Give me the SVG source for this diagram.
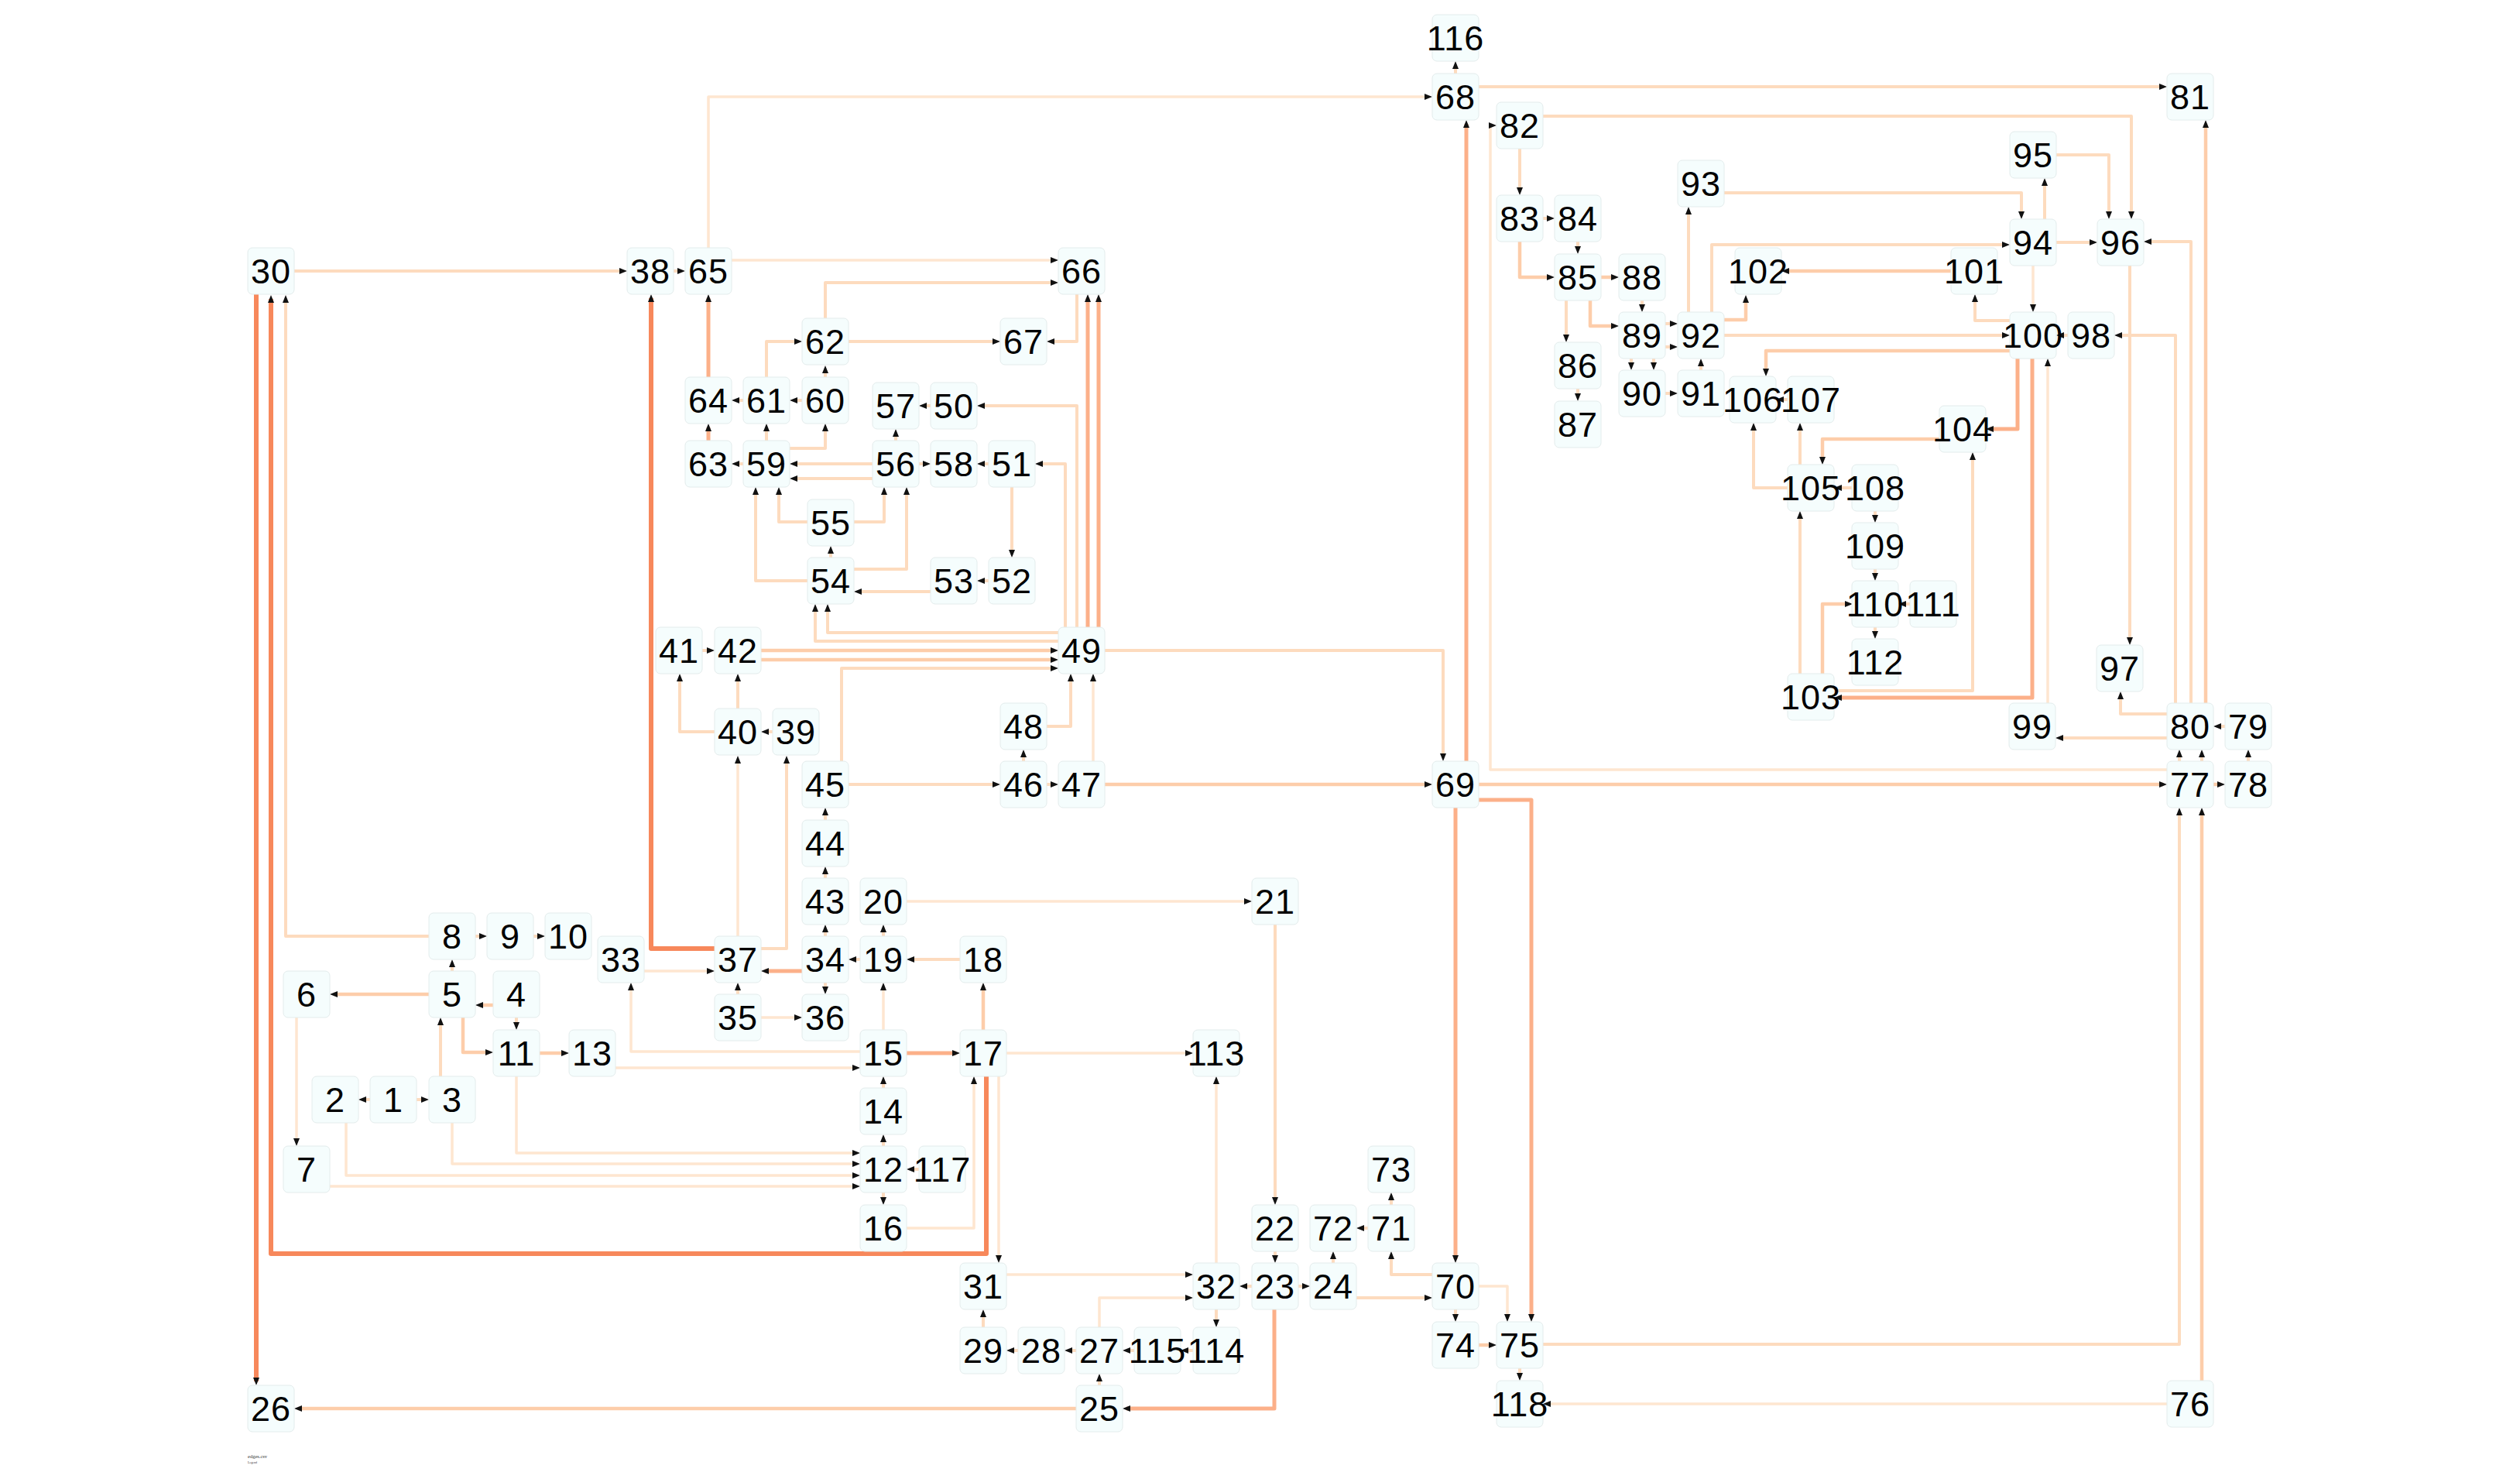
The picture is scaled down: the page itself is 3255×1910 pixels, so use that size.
<svg xmlns="http://www.w3.org/2000/svg" width="3255" height="1910" viewBox="0 0 3255 1910">
<style>
.e{fill:none;stroke-linejoin:round;marker-end:url(#ah)}
.c1{stroke:#fee6d0;stroke-width:3.5}
.c2{stroke:#fddbbe;stroke-width:4}
.c3{stroke:#fdcdaa;stroke-width:4.5}
.c4{stroke:#fcb089;stroke-width:5}
.c5{stroke:#f7885b;stroke-width:6}
.n rect{fill:#f5fdfd;stroke:#e3ecec;stroke-width:1}
.n text{font-family:"Liberation Sans",Arial,sans-serif;font-size:45px;letter-spacing:1px;fill:#000;text-anchor:middle}
</style>
<defs>
<marker id="ah" markerUnits="userSpaceOnUse" markerWidth="10" markerHeight="8" refX="5" refY="4" orient="auto"><path d="M0,0 L10,4 L0,8 z" fill="#111"/></marker>
</defs>
<rect width="3255" height="1910" fill="#fff"/>
<g id="edges">
<path class="e c2" d="M380,350 H805"/>
<path class="e c2" d="M870,350 H880"/>
<path class="e c1" d="M945,336 H1362"/>
<path class="e c2" d="M1066,411 V365 H1362"/>
<path class="e c1" d="M915,320 V125 H1845"/>
<path class="e c4" d="M915,487 V385"/>
<path class="e c4" d="M915,569 V552"/>
<path class="e c2" d="M960,517 H950"/>
<path class="e c2" d="M1036,517 H1025"/>
<path class="e c2" d="M990,487 V441 H1031"/>
<path class="e c2" d="M1066,487 V477"/>
<path class="e c2" d="M1096,441 H1287"/>
<path class="e c2" d="M1391,380 V441 H1357"/>
<path class="e c2" d="M990,569 V552"/>
<path class="e c2" d="M960,599 H950"/>
<path class="e c2" d="M1020,579 H1066 V552"/>
<path class="e c2" d="M1127,599 H1025"/>
<path class="e c2" d="M1127,618 H1025"/>
<path class="e c2" d="M1157,569 V559"/>
<path class="e c2" d="M1187,599 H1197"/>
<path class="e c2" d="M1277,599 H1267"/>
<path class="e c2" d="M1202,524 H1192"/>
<path class="e c2" d="M1307,629 V715"/>
<path class="e c2" d="M1277,750 H1267"/>
<path class="e c2" d="M1202,764 H1108"/>
<path class="e c2" d="M1073,720 V710"/>
<path class="e c2" d="M1043,674 H1006 V634"/>
<path class="e c2" d="M1103,674 H1142 V634"/>
<path class="e c2" d="M1043,750 H976 V634"/>
<path class="e c2" d="M1103,735 H1171 V634"/>
<path class="e c2" d="M1391,810 V524 H1267"/>
<path class="e c2" d="M1376,810 V599 H1342"/>
<path class="e c4" d="M1405,810 V385"/>
<path class="e c4" d="M1419,810 V385"/>
<path class="e c2" d="M1367,817 H1069 V785"/>
<path class="e c2" d="M1367,828 H1053 V785"/>
<path class="e c3" d="M983,840 H1362"/>
<path class="e c3" d="M983,852 H1362"/>
<path class="e c2" d="M1087,983 V863 H1362"/>
<path class="e c2" d="M1352,938 H1383 V875"/>
<path class="e c1" d="M1412,983 V875"/>
<path class="e c2" d="M1427,840 H1864 V978"/>
<path class="e c2" d="M907,840 H918"/>
<path class="e c2" d="M923,945 H878 V875"/>
<path class="e c2" d="M953,915 V875"/>
<path class="e c2" d="M998,945 H988"/>
<path class="e c1" d="M953,1209 V981"/>
<path class="e c2" d="M983,1225 H1016 V981"/>
<path class="e c2" d="M1322,983 V973"/>
<path class="e c2" d="M1096,1013 H1287"/>
<path class="e c2" d="M1352,1013 H1362"/>
<path class="e c3" d="M1427,1013 H1845"/>
<path class="e c2" d="M1066,1059 V1048"/>
<path class="e c2" d="M1066,1134 V1124"/>
<path class="e c2" d="M1066,1209 V1199"/>
<path class="e c2" d="M1141,1209 V1199"/>
<path class="e c1" d="M1171,1164 H1612"/>
<path class="e c2" d="M1647,1194 V1551"/>
<path class="e c2" d="M1240,1239 H1176"/>
<path class="e c2" d="M1111,1239 H1101"/>
<path class="e c4" d="M1036,1254 H988"/>
<path class="e c2" d="M1066,1269 V1279"/>
<path class="e c2" d="M953,1284 V1274"/>
<path class="e c1" d="M983,1314 H1031"/>
<path class="e c1" d="M832,1254 H918"/>
<path class="e c5" d="M923,1225 H841 V385"/>
<path class="e c1" d="M1111,1358 H815 V1274"/>
<path class="e c1" d="M795,1379 H1106"/>
<path class="e c3" d="M697,1360 H730"/>
<path class="e c3" d="M598,1314 V1359 H632"/>
<path class="e c2" d="M667,1314 V1325"/>
<path class="e c3" d="M637,1298 H619"/>
<path class="e c3" d="M554,1284 H431"/>
<path class="e c2" d="M584,1254 V1244"/>
<path class="e c2" d="M614,1209 H624"/>
<path class="e c2" d="M689,1209 H699"/>
<path class="e c2" d="M554,1209 H369 V386"/>
<path class="e c1" d="M383,1314 V1475"/>
<path class="e c2" d="M478,1420 H468"/>
<path class="e c2" d="M538,1420 H549"/>
<path class="e c2" d="M569,1390 V1319"/>
<path class="e c1" d="M667,1390 V1489 H1106"/>
<path class="e c1" d="M584,1450 V1503 H1106"/>
<path class="e c1" d="M447,1450 V1518 H1106"/>
<path class="e c1" d="M426,1532 H1106"/>
<path class="e c2" d="M1141,1480 V1470"/>
<path class="e c2" d="M1141,1405 V1395"/>
<path class="e c1" d="M1141,1330 V1274"/>
<path class="e c4" d="M1171,1360 H1235"/>
<path class="e c3" d="M1270,1330 V1274"/>
<path class="e c1" d="M1300,1360 H1536"/>
<path class="e c2" d="M1187,1510 H1176"/>
<path class="e c2" d="M1141,1540 V1551"/>
<path class="e c1" d="M1171,1586 H1258 V1395"/>
<path class="e c5" d="M1274,1390 V1619 H350 V386"/>
<path class="e c5" d="M331,380 V1784"/>
<path class="e c1" d="M1290,1390 V1626"/>
<path class="e c2" d="M1270,1714 V1696"/>
<path class="e c2" d="M1315,1744 H1305"/>
<path class="e c2" d="M1390,1744 H1380"/>
<path class="e c2" d="M1465,1744 H1455"/>
<path class="e c2" d="M1541,1744 H1530"/>
<path class="e c2" d="M1420,1789 V1779"/>
<path class="e c1" d="M1420,1714 V1676 H1536"/>
<path class="e c1" d="M1300,1646 H1536"/>
<path class="e c1" d="M1571,1631 V1395"/>
<path class="e c2" d="M1571,1691 V1709"/>
<path class="e c2" d="M1617,1661 H1606"/>
<path class="e c2" d="M1647,1616 V1626"/>
<path class="e c2" d="M1677,1661 H1687"/>
<path class="e c2" d="M1722,1631 V1621"/>
<path class="e c2" d="M1767,1586 H1757"/>
<path class="e c2" d="M1797,1556 V1545"/>
<path class="e c2" d="M1850,1646 H1797 V1621"/>
<path class="e c2" d="M1752,1676 H1845"/>
<path class="e c4" d="M1646,1691 V1819 H1455"/>
<path class="e c3" d="M1390,1819 H385"/>
<path class="e c2" d="M1880,1691 V1702"/>
<path class="e c3" d="M1910,1737 H1928"/>
<path class="e c1" d="M1910,1661 H1947 V1702"/>
<path class="e c4" d="M1910,1033 H1978 V1702"/>
<path class="e c4" d="M1880,1043 V1626"/>
<path class="e c2" d="M1963,1767 V1778"/>
<path class="e c1" d="M2799,1813 H1998"/>
<path class="e c2" d="M1993,1736 H2815 V1048"/>
<path class="e c3" d="M2844,1783 V1048"/>
<path class="e c3" d="M1910,1013 H2794"/>
<path class="e c3" d="M2859,1013 H2869"/>
<path class="e c2" d="M2904,983 V973"/>
<path class="e c2" d="M2874,938 H2864"/>
<path class="e c2" d="M2815,983 V973"/>
<path class="e c2" d="M2844,983 V973"/>
<path class="e c1" d="M2799,994 H1925 V162 H1928"/>
<path class="e c2" d="M2799,953 H2660"/>
<path class="e c2" d="M2799,922 H2739 V898"/>
<path class="e c2" d="M2810,908 V433 H2736"/>
<path class="e c2" d="M2830,908 V312 H2774"/>
<path class="e c3" d="M2849,908 V160"/>
<path class="e c2" d="M1910,112 H2794"/>
<path class="e c2" d="M1880,95 V84"/>
<path class="e c4" d="M1894,983 V160"/>
<path class="e c2" d="M1993,150 H2753 V278"/>
<path class="e c2" d="M1963,192 V247"/>
<path class="e c2" d="M1993,282 H2003"/>
<path class="e c2" d="M2038,312 V323"/>
<path class="e c3" d="M1963,312 V358 H2003"/>
<path class="e c3" d="M2068,358 H2086"/>
<path class="e c2" d="M2023,388 V437"/>
<path class="e c3" d="M2054,388 V421 H2086"/>
<path class="e c2" d="M2121,388 V398"/>
<path class="e c2" d="M2038,502 V513"/>
<path class="e c2" d="M2151,418 H2162"/>
<path class="e c2" d="M2151,448 H2162"/>
<path class="e c2" d="M2107,463 V473"/>
<path class="e c2" d="M2136,463 V473"/>
<path class="e c2" d="M2151,508 H2162"/>
<path class="e c2" d="M2197,478 V468"/>
<path class="e c2" d="M2181,403 V272"/>
<path class="e c2" d="M2227,249 H2611 V278"/>
<path class="e c2" d="M2211,403 V316 H2591"/>
<path class="e c3" d="M2227,413 H2255 V386"/>
<path class="e c2" d="M2227,433 H2591"/>
<path class="e c3" d="M2520,350 H2306"/>
<path class="e c2" d="M2596,414 H2551 V385"/>
<path class="e c2" d="M2641,283 V235"/>
<path class="e c2" d="M2656,200 H2724 V278"/>
<path class="e c2" d="M2656,313 H2704"/>
<path class="e c1" d="M2626,343 V398"/>
<path class="e c2" d="M2671,433 H2661"/>
<path class="e c2" d="M2751,343 V828"/>
<path class="e c3" d="M2596,453 H2281 V481"/>
<path class="e c2" d="M2309,516 H2299"/>
<path class="e c2" d="M2309,630 H2265 V551"/>
<path class="e c2" d="M2325,600 V551"/>
<path class="e c2" d="M2393,630 H2374"/>
<path class="e c2" d="M2422,660 V670"/>
<path class="e c2" d="M2422,735 V745"/>
<path class="e c2" d="M2422,810 V820"/>
<path class="e c2" d="M2467,780 H2457"/>
<path class="e c3" d="M2505,567 H2354 V595"/>
<path class="e c4" d="M2606,463 V554 H2570"/>
<path class="e c4" d="M2625,463 V901 H2374"/>
<path class="e c1" d="M2645,908 V468"/>
<path class="e c2" d="M2369,892 H2548 V589"/>
<path class="e c2" d="M2325,870 V665"/>
<path class="e c3" d="M2354,870 V780 H2388"/>
</g>
<g id="nodes">
<g class="n" id="n1"><rect x="478" y="1390" width="60" height="60" rx="6"/><text x="508" y="1436">1</text></g>
<g class="n" id="n2"><rect x="403" y="1390" width="60" height="60" rx="6"/><text x="433" y="1436">2</text></g>
<g class="n" id="n3"><rect x="554" y="1390" width="60" height="60" rx="6"/><text x="584" y="1436">3</text></g>
<g class="n" id="n4"><rect x="637" y="1254" width="60" height="60" rx="6"/><text x="667" y="1300">4</text></g>
<g class="n" id="n5"><rect x="554" y="1254" width="60" height="60" rx="6"/><text x="584" y="1300">5</text></g>
<g class="n" id="n6"><rect x="366" y="1254" width="60" height="60" rx="6"/><text x="396" y="1300">6</text></g>
<g class="n" id="n7"><rect x="366" y="1480" width="60" height="60" rx="6"/><text x="396" y="1526">7</text></g>
<g class="n" id="n8"><rect x="554" y="1179" width="60" height="60" rx="6"/><text x="584" y="1225">8</text></g>
<g class="n" id="n9"><rect x="629" y="1179" width="60" height="60" rx="6"/><text x="659" y="1225">9</text></g>
<g class="n" id="n10"><rect x="704" y="1179" width="60" height="60" rx="6"/><text x="734" y="1225">10</text></g>
<g class="n" id="n11"><rect x="637" y="1330" width="60" height="60" rx="6"/><text x="667" y="1376">11</text></g>
<g class="n" id="n12"><rect x="1111" y="1480" width="60" height="60" rx="6"/><text x="1141" y="1526">12</text></g>
<g class="n" id="n13"><rect x="735" y="1330" width="60" height="60" rx="6"/><text x="765" y="1376">13</text></g>
<g class="n" id="n14"><rect x="1111" y="1405" width="60" height="60" rx="6"/><text x="1141" y="1451">14</text></g>
<g class="n" id="n15"><rect x="1111" y="1330" width="60" height="60" rx="6"/><text x="1141" y="1376">15</text></g>
<g class="n" id="n16"><rect x="1111" y="1556" width="60" height="60" rx="6"/><text x="1141" y="1602">16</text></g>
<g class="n" id="n17"><rect x="1240" y="1330" width="60" height="60" rx="6"/><text x="1270" y="1376">17</text></g>
<g class="n" id="n18"><rect x="1240" y="1209" width="60" height="60" rx="6"/><text x="1270" y="1255">18</text></g>
<g class="n" id="n19"><rect x="1111" y="1209" width="60" height="60" rx="6"/><text x="1141" y="1255">19</text></g>
<g class="n" id="n20"><rect x="1111" y="1134" width="60" height="60" rx="6"/><text x="1141" y="1180">20</text></g>
<g class="n" id="n21"><rect x="1617" y="1134" width="60" height="60" rx="6"/><text x="1647" y="1180">21</text></g>
<g class="n" id="n22"><rect x="1617" y="1556" width="60" height="60" rx="6"/><text x="1647" y="1602">22</text></g>
<g class="n" id="n23"><rect x="1617" y="1631" width="60" height="60" rx="6"/><text x="1647" y="1677">23</text></g>
<g class="n" id="n24"><rect x="1692" y="1631" width="60" height="60" rx="6"/><text x="1722" y="1677">24</text></g>
<g class="n" id="n25"><rect x="1390" y="1789" width="60" height="60" rx="6"/><text x="1420" y="1835">25</text></g>
<g class="n" id="n26"><rect x="320" y="1789" width="60" height="60" rx="6"/><text x="350" y="1835">26</text></g>
<g class="n" id="n27"><rect x="1390" y="1714" width="60" height="60" rx="6"/><text x="1420" y="1760">27</text></g>
<g class="n" id="n28"><rect x="1315" y="1714" width="60" height="60" rx="6"/><text x="1345" y="1760">28</text></g>
<g class="n" id="n29"><rect x="1240" y="1714" width="60" height="60" rx="6"/><text x="1270" y="1760">29</text></g>
<g class="n" id="n30"><rect x="320" y="320" width="60" height="60" rx="6"/><text x="350" y="366">30</text></g>
<g class="n" id="n31"><rect x="1240" y="1631" width="60" height="60" rx="6"/><text x="1270" y="1677">31</text></g>
<g class="n" id="n32"><rect x="1541" y="1631" width="60" height="60" rx="6"/><text x="1571" y="1677">32</text></g>
<g class="n" id="n33"><rect x="772" y="1209" width="60" height="60" rx="6"/><text x="802" y="1255">33</text></g>
<g class="n" id="n34"><rect x="1036" y="1209" width="60" height="60" rx="6"/><text x="1066" y="1255">34</text></g>
<g class="n" id="n35"><rect x="923" y="1284" width="60" height="60" rx="6"/><text x="953" y="1330">35</text></g>
<g class="n" id="n36"><rect x="1036" y="1284" width="60" height="60" rx="6"/><text x="1066" y="1330">36</text></g>
<g class="n" id="n37"><rect x="923" y="1209" width="60" height="60" rx="6"/><text x="953" y="1255">37</text></g>
<g class="n" id="n38"><rect x="810" y="320" width="60" height="60" rx="6"/><text x="840" y="366">38</text></g>
<g class="n" id="n39"><rect x="998" y="915" width="60" height="60" rx="6"/><text x="1028" y="961">39</text></g>
<g class="n" id="n40"><rect x="923" y="915" width="60" height="60" rx="6"/><text x="953" y="961">40</text></g>
<g class="n" id="n41"><rect x="847" y="810" width="60" height="60" rx="6"/><text x="877" y="856">41</text></g>
<g class="n" id="n42"><rect x="923" y="810" width="60" height="60" rx="6"/><text x="953" y="856">42</text></g>
<g class="n" id="n43"><rect x="1036" y="1134" width="60" height="60" rx="6"/><text x="1066" y="1180">43</text></g>
<g class="n" id="n44"><rect x="1036" y="1059" width="60" height="60" rx="6"/><text x="1066" y="1105">44</text></g>
<g class="n" id="n45"><rect x="1036" y="983" width="60" height="60" rx="6"/><text x="1066" y="1029">45</text></g>
<g class="n" id="n46"><rect x="1292" y="983" width="60" height="60" rx="6"/><text x="1322" y="1029">46</text></g>
<g class="n" id="n47"><rect x="1367" y="983" width="60" height="60" rx="6"/><text x="1397" y="1029">47</text></g>
<g class="n" id="n48"><rect x="1292" y="908" width="60" height="60" rx="6"/><text x="1322" y="954">48</text></g>
<g class="n" id="n49"><rect x="1367" y="810" width="60" height="60" rx="6"/><text x="1397" y="856">49</text></g>
<g class="n" id="n50"><rect x="1202" y="494" width="60" height="60" rx="6"/><text x="1232" y="540">50</text></g>
<g class="n" id="n51"><rect x="1277" y="569" width="60" height="60" rx="6"/><text x="1307" y="615">51</text></g>
<g class="n" id="n52"><rect x="1277" y="720" width="60" height="60" rx="6"/><text x="1307" y="766">52</text></g>
<g class="n" id="n53"><rect x="1202" y="720" width="60" height="60" rx="6"/><text x="1232" y="766">53</text></g>
<g class="n" id="n54"><rect x="1043" y="720" width="60" height="60" rx="6"/><text x="1073" y="766">54</text></g>
<g class="n" id="n55"><rect x="1043" y="645" width="60" height="60" rx="6"/><text x="1073" y="691">55</text></g>
<g class="n" id="n56"><rect x="1127" y="569" width="60" height="60" rx="6"/><text x="1157" y="615">56</text></g>
<g class="n" id="n57"><rect x="1127" y="494" width="60" height="60" rx="6"/><text x="1157" y="540">57</text></g>
<g class="n" id="n58"><rect x="1202" y="569" width="60" height="60" rx="6"/><text x="1232" y="615">58</text></g>
<g class="n" id="n59"><rect x="960" y="569" width="60" height="60" rx="6"/><text x="990" y="615">59</text></g>
<g class="n" id="n60"><rect x="1036" y="487" width="60" height="60" rx="6"/><text x="1066" y="533">60</text></g>
<g class="n" id="n61"><rect x="960" y="487" width="60" height="60" rx="6"/><text x="990" y="533">61</text></g>
<g class="n" id="n62"><rect x="1036" y="411" width="60" height="60" rx="6"/><text x="1066" y="457">62</text></g>
<g class="n" id="n63"><rect x="885" y="569" width="60" height="60" rx="6"/><text x="915" y="615">63</text></g>
<g class="n" id="n64"><rect x="885" y="487" width="60" height="60" rx="6"/><text x="915" y="533">64</text></g>
<g class="n" id="n65"><rect x="885" y="320" width="60" height="60" rx="6"/><text x="915" y="366">65</text></g>
<g class="n" id="n66"><rect x="1367" y="320" width="60" height="60" rx="6"/><text x="1397" y="366">66</text></g>
<g class="n" id="n67"><rect x="1292" y="411" width="60" height="60" rx="6"/><text x="1322" y="457">67</text></g>
<g class="n" id="n68"><rect x="1850" y="95" width="60" height="60" rx="6"/><text x="1880" y="141">68</text></g>
<g class="n" id="n69"><rect x="1850" y="983" width="60" height="60" rx="6"/><text x="1880" y="1029">69</text></g>
<g class="n" id="n70"><rect x="1850" y="1631" width="60" height="60" rx="6"/><text x="1880" y="1677">70</text></g>
<g class="n" id="n71"><rect x="1767" y="1556" width="60" height="60" rx="6"/><text x="1797" y="1602">71</text></g>
<g class="n" id="n72"><rect x="1692" y="1556" width="60" height="60" rx="6"/><text x="1722" y="1602">72</text></g>
<g class="n" id="n73"><rect x="1767" y="1480" width="60" height="60" rx="6"/><text x="1797" y="1526">73</text></g>
<g class="n" id="n74"><rect x="1850" y="1707" width="60" height="60" rx="6"/><text x="1880" y="1753">74</text></g>
<g class="n" id="n75"><rect x="1933" y="1707" width="60" height="60" rx="6"/><text x="1963" y="1753">75</text></g>
<g class="n" id="n76"><rect x="2799" y="1783" width="60" height="60" rx="6"/><text x="2829" y="1829">76</text></g>
<g class="n" id="n77"><rect x="2799" y="983" width="60" height="60" rx="6"/><text x="2829" y="1029">77</text></g>
<g class="n" id="n78"><rect x="2874" y="983" width="60" height="60" rx="6"/><text x="2904" y="1029">78</text></g>
<g class="n" id="n79"><rect x="2874" y="908" width="60" height="60" rx="6"/><text x="2904" y="954">79</text></g>
<g class="n" id="n80"><rect x="2799" y="908" width="60" height="60" rx="6"/><text x="2829" y="954">80</text></g>
<g class="n" id="n81"><rect x="2799" y="95" width="60" height="60" rx="6"/><text x="2829" y="141">81</text></g>
<g class="n" id="n82"><rect x="1933" y="132" width="60" height="60" rx="6"/><text x="1963" y="178">82</text></g>
<g class="n" id="n83"><rect x="1933" y="252" width="60" height="60" rx="6"/><text x="1963" y="298">83</text></g>
<g class="n" id="n84"><rect x="2008" y="252" width="60" height="60" rx="6"/><text x="2038" y="298">84</text></g>
<g class="n" id="n85"><rect x="2008" y="328" width="60" height="60" rx="6"/><text x="2038" y="374">85</text></g>
<g class="n" id="n86"><rect x="2008" y="442" width="60" height="60" rx="6"/><text x="2038" y="488">86</text></g>
<g class="n" id="n87"><rect x="2008" y="518" width="60" height="60" rx="6"/><text x="2038" y="564">87</text></g>
<g class="n" id="n88"><rect x="2091" y="328" width="60" height="60" rx="6"/><text x="2121" y="374">88</text></g>
<g class="n" id="n89"><rect x="2091" y="403" width="60" height="60" rx="6"/><text x="2121" y="449">89</text></g>
<g class="n" id="n90"><rect x="2091" y="478" width="60" height="60" rx="6"/><text x="2121" y="524">90</text></g>
<g class="n" id="n91"><rect x="2167" y="478" width="60" height="60" rx="6"/><text x="2197" y="524">91</text></g>
<g class="n" id="n92"><rect x="2167" y="403" width="60" height="60" rx="6"/><text x="2197" y="449">92</text></g>
<g class="n" id="n93"><rect x="2167" y="207" width="60" height="60" rx="6"/><text x="2197" y="253">93</text></g>
<g class="n" id="n94"><rect x="2596" y="283" width="60" height="60" rx="6"/><text x="2626" y="329">94</text></g>
<g class="n" id="n95"><rect x="2596" y="170" width="60" height="60" rx="6"/><text x="2626" y="216">95</text></g>
<g class="n" id="n96"><rect x="2709" y="283" width="60" height="60" rx="6"/><text x="2739" y="329">96</text></g>
<g class="n" id="n97"><rect x="2708" y="833" width="60" height="60" rx="6"/><text x="2738" y="879">97</text></g>
<g class="n" id="n98"><rect x="2671" y="403" width="60" height="60" rx="6"/><text x="2701" y="449">98</text></g>
<g class="n" id="n99"><rect x="2595" y="908" width="60" height="60" rx="6"/><text x="2625" y="954">99</text></g>
<g class="n" id="n100"><rect x="2596" y="403" width="60" height="60" rx="6"/><text x="2626" y="449">100</text></g>
<g class="n" id="n101"><rect x="2520" y="320" width="60" height="60" rx="6"/><text x="2550" y="366">101</text></g>
<g class="n" id="n102"><rect x="2241" y="320" width="60" height="60" rx="6"/><text x="2271" y="366">102</text></g>
<g class="n" id="n103"><rect x="2309" y="870" width="60" height="60" rx="6"/><text x="2339" y="916">103</text></g>
<g class="n" id="n104"><rect x="2505" y="524" width="60" height="60" rx="6"/><text x="2535" y="570">104</text></g>
<g class="n" id="n105"><rect x="2309" y="600" width="60" height="60" rx="6"/><text x="2339" y="646">105</text></g>
<g class="n" id="n106"><rect x="2234" y="486" width="60" height="60" rx="6"/><text x="2264" y="532">106</text></g>
<g class="n" id="n107"><rect x="2309" y="486" width="60" height="60" rx="6"/><text x="2339" y="532">107</text></g>
<g class="n" id="n108"><rect x="2392" y="600" width="60" height="60" rx="6"/><text x="2422" y="646">108</text></g>
<g class="n" id="n109"><rect x="2392" y="675" width="60" height="60" rx="6"/><text x="2422" y="721">109</text></g>
<g class="n" id="n110"><rect x="2392" y="750" width="60" height="60" rx="6"/><text x="2422" y="796">110</text></g>
<g class="n" id="n111"><rect x="2467" y="750" width="60" height="60" rx="6"/><text x="2497" y="796">111</text></g>
<g class="n" id="n112"><rect x="2392" y="825" width="60" height="60" rx="6"/><text x="2422" y="871">112</text></g>
<g class="n" id="n113"><rect x="1541" y="1330" width="60" height="60" rx="6"/><text x="1571" y="1376">113</text></g>
<g class="n" id="n114"><rect x="1541" y="1714" width="60" height="60" rx="6"/><text x="1571" y="1760">114</text></g>
<g class="n" id="n115"><rect x="1465" y="1714" width="60" height="60" rx="6"/><text x="1495" y="1760">115</text></g>
<g class="n" id="n116"><rect x="1850" y="19" width="60" height="60" rx="6"/><text x="1880" y="65">116</text></g>
<g class="n" id="n117"><rect x="1187" y="1480" width="60" height="60" rx="6"/><text x="1217" y="1526">117</text></g>
<g class="n" id="n118"><rect x="1933" y="1783" width="60" height="60" rx="6"/><text x="1963" y="1829">118</text></g>
</g>
<g id="legend" font-family="'Liberation Serif',serif" fill="#333">
<text x="320" y="1883" font-size="6.5">edges.csv</text>
<text x="320" y="1890" font-size="4">Legend</text>
</g>
</svg>
